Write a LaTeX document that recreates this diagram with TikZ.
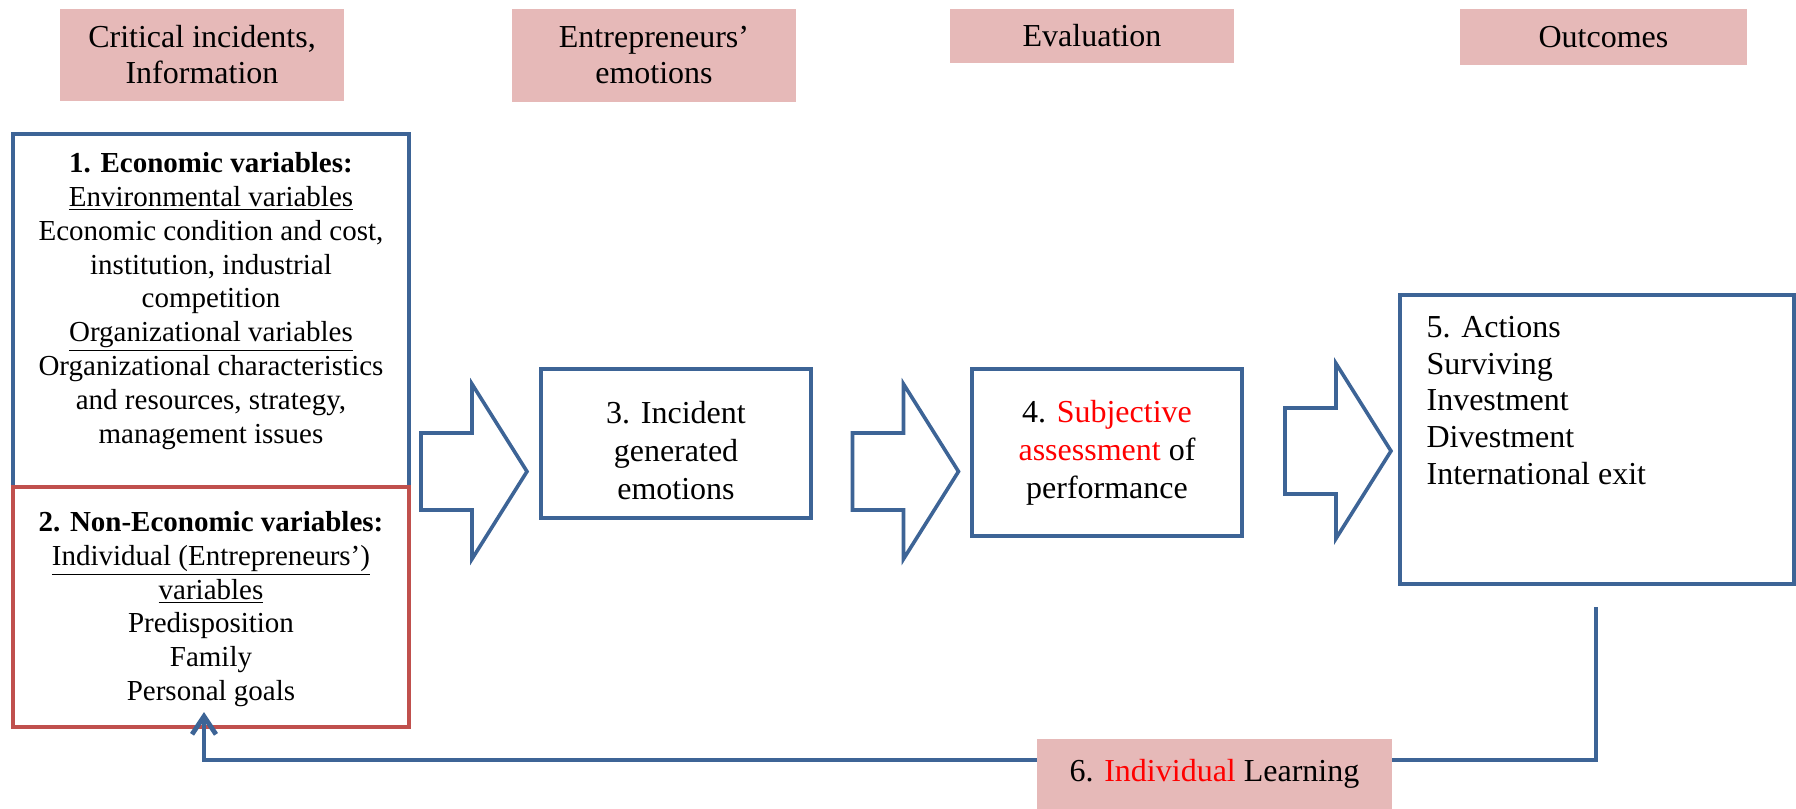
\documentclass[tikz,border=0pt]{standalone}
\usepackage{fontspec}
\setmainfont{Liberation Serif}
\usepackage{xcolor}
\usepackage{tikz}
\usetikzlibrary{positioning,arrows.meta}

\definecolor{boxblue}{HTML}{3D6496}
\definecolor{boxred}{HTML}{C0504D}
\definecolor{headpink}{HTML}{E6B9B8}

\begin{document}
\begin{tikzpicture}[
  x=0.5pt, y=-0.5pt,
  head/.style={rectangle, fill=headpink, minimum width=142pt, inner sep=0pt, align=center, font=\fontsize{16}{18}\selectfont},
  stage/.style={rectangle, draw=boxblue, line width=1.8pt, inner sep=0pt, align=center, font=\fontsize{16}{18.5}\selectfont},
  varbox/.style={rectangle, line width=1.8pt, minimum width=198pt, inner sep=0pt},
  vartext/.style={inner sep=0pt, align=center, font=\fontsize{14.5}{16.9}\selectfont},
  blockarrow/.style={draw=boxblue, line width=1.8pt, fill=white},
  feedback/.style={draw=boxblue, line width=2.4pt, -{Straight Barb[length=9pt,width=12pt]}}
]
\useasboundingbox (0,0) rectangle (1796,809);

% Column headings (top)
\node[head, minimum height=46pt] (hinfo) at (202,55) {Critical incidents,\\Information};
\node[head, minimum height=46.5pt] (hemo) at (654,55.5) {Entrepreneurs’\\emotions};
\node[head, minimum height=27pt] (heval) at (1092,36) {Evaluation};
\node[head, minimum height=28pt, minimum width=143.5pt] (hout) at (1603.5,37) {Outcomes};

% Variables (left)
\node[varbox, draw=boxblue, minimum height=176.5pt] (eco) at (211,310.5) {};
\node[vartext, below=10pt of eco.north] (ecotext) {\textbf{1. Economic variables:}\\
  \underline{Environmental variables}\\
  Economic condition and cost,\\
  institution, industrial\\
  competition\\
  \underline{Organizational variables}\\
  Organizational characteristics\\
  and resources, strategy,\\
  management issues};
\node[varbox, draw=boxred, minimum height=120pt] (noneco) at (211,607) {};
\node[vartext] (nonecotext) at ([yshift=-1pt]noneco.center) {\textbf{2. Non-Economic variables:}\\
  \underline{Individual (Entrepreneurs’)}\\
  \underline{variables}\\
  Predisposition\\
  Family\\
  Personal goals};

% Stages
\node[stage, minimum width=135pt, minimum height=74.5pt] (incident) at (676,443.5) {};
\node[inner sep=0pt, align=center, font=\fontsize{16}{19}\selectfont] (incidenttext) at ([yshift=-3.5pt]incident.center) {3. Incident\\generated\\emotions};
\node[stage, minimum width=135pt, minimum height=83.5pt, font=\fontsize{16}{19}\selectfont] (assess) at (1107,452.5) {4. \textcolor{red}{Subjective}\\\textcolor{red}{assessment} of\\performance};
\node[stage, minimum width=197pt, minimum height=144.5pt] (action) at (1597,439.5) {};
\node[inner sep=0pt, align=left, font=\fontsize{16}{18.3}\selectfont, below right=11.5pt and 14pt of action.north west] (actiontext) {5. Actions\\Surviving\\Investment\\Divestment\\International exit};

% Block arrows between the columns
\foreach \cx/\cy/\bh in {474/471.5/38.5, 905.5/471.5/38.5, 1338/451/43}
  \draw[blockarrow] ({\cx-53},{\cy-\bh}) -- ({\cx-2},{\cy-\bh}) -- ({\cx-2},{\cy-87.5})
    -- ({\cx+53},\cy) -- ({\cx-2},{\cy+87.5}) -- ({\cx-2},{\cy+\bh}) -- ({\cx-53},{\cy+\bh}) -- cycle;

% Learning loop (bottom)
\coordinate (fbstart) at (1596,607);
\coordinate (fbturn) at (1596,760);
\coordinate (fbend) at (204,712);
\draw[feedback] (fbstart) -- (fbturn) -| (fbend);
\node[head, minimum width=177.5pt, minimum height=35pt, font=\fontsize{16}{18.5}\selectfont] (learn) at (1214.5,774) {6. \textcolor{red}{Individual} Learning};

\end{tikzpicture}
\end{document}
